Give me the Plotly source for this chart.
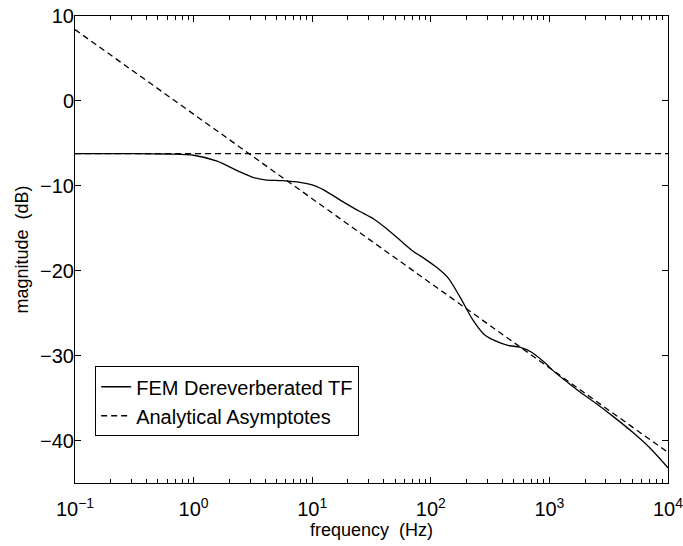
import plotly.graph_objects as go

# FEM dereverberated transfer function
fem_freq = [0.1, 0.316, 0.63, 1.0, 1.58, 2.4, 3.16, 4.0, 5.6, 7.9, 10, 12.6, 17.8, 25, 33, 42,
            56, 71, 89, 112, 141, 178, 224, 282, 355, 447, 562, 708, 891, 1122, 1413, 1778,
            2512, 3548, 5012, 7079, 10000]
fem_db = [-6.2, -6.2, -6.25, -6.4, -7.1, -8.3, -9.0, -9.3, -9.4, -9.6, -9.9, -10.5, -11.8, -13.0,
          -13.9, -15.0, -16.5, -17.7, -18.6, -19.6, -20.9, -23.2, -25.7, -27.5, -28.3, -28.8,
          -29.0, -29.6, -30.7, -32.0, -33.1, -34.2, -35.7, -37.3, -39.0, -40.9, -43.2]

# Analytical asymptotes
low_freq = [0.1, 10000]
low_db = [-6.2, -6.2]
high_freq = [0.1, 10000]
high_db = [8.4, -41.4]

x_tickvals = [0.1, 1, 10, 100, 1000, 10000]
x_ticktext = ["10<sup>\u22121</sup>", "10<sup>0</sup>", "10<sup>1</sup>",
              "10<sup>2</sup>", "10<sup>3</sup>", "10<sup>4</sup>"]
y_tickvals = [-40, -30, -20, -10, 0, 10]

font_family = "Liberation Sans, Arial, sans-serif"

fig = go.Figure()
fig.add_trace(go.Scatter(x=fem_freq, y=fem_db, mode="lines", name="FEM Dereverberated TF",
                         line=dict(color="black", width=1.3, shape="spline", smoothing=0.7)))
fig.add_trace(go.Scatter(x=low_freq, y=low_db, mode="lines", name="Analytical Asymptotes",
                         line=dict(color="black", width=1.3, dash="6px,4px")))
fig.add_trace(go.Scatter(x=high_freq, y=high_db, mode="lines", showlegend=False,
                         line=dict(color="black", width=1.3, dash="6px,4px")))

fig.update_layout(
    width=683, height=546,
    margin=dict(l=75, r=15, t=16, b=63),
    paper_bgcolor="white", plot_bgcolor="white",
    font=dict(family=font_family, color="black", size=18),
    legend=dict(x=0.034, y=0.25, xanchor="left", yanchor="top",
                bordercolor="black", borderwidth=1, bgcolor="white",
                font=dict(size=20), itemwidth=30, tracegroupgap=0),
)
fig.update_xaxes(
    type="log", range=[-1, 4], automargin=False,
    tickvals=x_tickvals, ticktext=x_ticktext,
    ticks="inside", ticklen=6, tickcolor="black",
    showline=True, linecolor="black", linewidth=1, mirror="allticks",
    showgrid=False, zeroline=False,
    tickfont=dict(size=20), ticklabelstandoff=8, ticklabeloverflow="allow",
    minor=dict(ticks="inside", ticklen=4, tickcolor="black", dtick="D1", showgrid=False),
    title=dict(text="frequency  (Hz)", font=dict(size=18), standoff=2),
)
fig.update_yaxes(
    range=[-45, 10], tickvals=y_tickvals, automargin=False,
    ticks="inside", ticklen=6, tickcolor="black",
    showline=True, linecolor="black", linewidth=1, mirror="allticks",
    showgrid=False, zeroline=False,
    tickfont=dict(size=20), ticklabelstandoff=-4, ticklabeloverflow="allow",
    title=dict(text="magnitude  (dB)", font=dict(size=18), standoff=6),
)

# remove the browser's default page margin so the figure fills the window exactly
fig.write_html("out.html", config={"displayModeBar": False},
               post_script="document.body.style.margin='0';document.body.style.overflow='hidden';")
